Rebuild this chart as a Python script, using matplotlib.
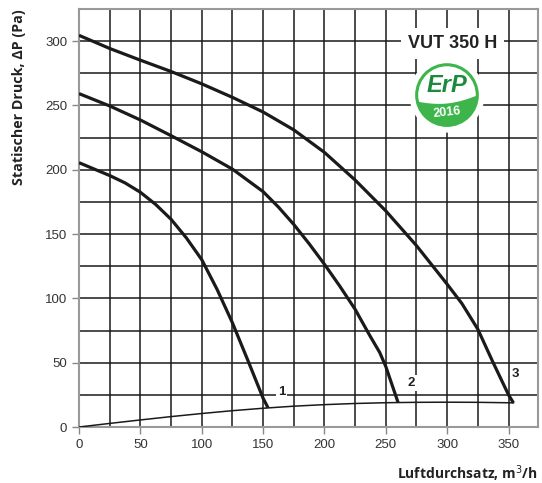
import matplotlib.pyplot as plt
import numpy as np
from matplotlib.patches import Circle, Polygon

# Kennlinien
x1 = [0, 25, 37.5, 50, 62.5, 75, 87.5, 100, 112.5, 125, 137.5, 150, 154]
y1 = [205.5, 195.5, 189.8, 182.5, 173, 161.5, 147, 130.1, 107, 81, 52, 22.4, 15]

x2 = [0, 25, 50, 75, 100, 125, 150, 162.5, 175, 187.5, 200, 212.5, 225, 237, 245, 250, 255, 260]
y2 = [259.2, 249.6, 238.7, 226.5, 214, 200.5, 183, 171, 157.5, 142.5, 126.5, 109.5, 91.5,
      71, 58, 47, 33, 19]

x3 = [0, 25, 50, 75, 100, 125, 150, 175, 200, 225, 250, 275, 300, 312, 325, 337, 350, 354]
y3 = [304.5, 294.3, 285.2, 276.4, 266.8, 256.3, 244.9, 231, 213.5, 192, 168, 141,
      111, 96, 76, 51, 25, 18.8]

# Anlagenkennlinie
xs = [0, 25, 50, 75, 100, 125, 150, 175, 200, 225, 250, 275, 300, 325, 354]
ys = [0, 2.8, 5.5, 8.1, 10.5, 12.7, 14.6, 16.2, 17.4, 18.3, 18.9, 19.2, 19.3, 19.2, 18.8]

labels = ['1', '2', '3']
label_pos = [(165, 27.5), (271, 34.5), (356, 41)]

fig = plt.figure(figsize=(5.42, 4.83), dpi=100)
ax = fig.add_axes([0.1458, 0.1159, 0.8468, 0.8655])

ax.set_xlim(0, 374)
ax.set_ylim(0, 325)
ax.set_xticks(np.arange(0, 351, 50))
ax.set_yticks(np.arange(0, 301, 50))
ax.set_xticks(np.arange(25, 374, 25), minor=True)
ax.set_yticks(np.arange(25, 325, 25), minor=True)
ax.grid(True, which='both', color='#1a1a1a', linewidth=1.1, zorder=1)
ax.set_axisbelow(True)
ax.tick_params(which='major', length=5, width=1, color='#888888',
               labelsize=9.5, labelcolor='#333333')
ax.tick_params(which='minor', length=0)
for lab in ax.get_xticklabels() + ax.get_yticklabels():
    lab.set_family('Liberation Sans')
for s in ax.spines.values():
    s.set_color('#999999')
    s.set_linewidth(1.5)

ax.plot(xs, ys, color='#1a1a1a', lw=1.1, zorder=3)
for xx, yy in [(x1, y1), (x2, y2), (x3, y3)]:
    ax.plot(xx, yy, color='#1a1a1a', lw=2.3, solid_capstyle='butt',
            solid_joinstyle='round', zorder=4)

for t, (lx, ly) in zip(labels, label_pos):
    ax.text(lx, ly, t, ha='center', va='center', fontsize=9.5, fontweight='bold',
            family='Liberation Sans', color='#222222', zorder=5,
            bbox=dict(facecolor='white', edgecolor='none', pad=1.5))

ax.text(304.5, 298.4, 'VUT 350 H', ha='center', va='center', fontsize=13,
        fontweight='bold', family='Liberation Sans', color='#222222', zorder=5,
        bbox=dict(facecolor='white', edgecolor='none', pad=5))

ax.set_ylabel('Statischer Druck, \u0394P (Pa)', fontsize=10.3, fontweight='bold',
              family='Open Sans', color='#222222', loc='top', labelpad=14)
ax.set_xlabel('Luftdurchsatz, m$^3$/h', fontsize=10, fontweight='bold',
              family='Open Sans', color='#222222', loc='right', labelpad=9)

# ErP-Logo
lg = fig.add_axes([0.7675 - 0.012, 0.739 - 0.014, 0.1144 + 0.024, 0.1284 + 0.028])
lg.set_xlim(-1.2, 1.2)
lg.set_ylim(-1.2, 1.2)
lg.set_aspect('equal')
lg.axis('off')
lg.add_patch(Circle((0, 0), 1.18, color='white', zorder=1))
green = '#3db54a'
dark = '#1b8a3c'
lg.add_patch(Circle((0, 0), 0.97, facecolor='white', edgecolor=green, lw=2.2, zorder=2))
th = np.linspace(np.radians(190), np.radians(362), 60)
lower = list(zip(np.cos(th), np.sin(th)))
wx = np.linspace(1.0, -0.98, 40)
wy = -0.2 + 0.2 * ((wx + 1) / 2) ** 2 - 0.12 * np.sin(np.pi * (wx + 1) / 2)
lower += list(zip(wx, wy))
lg.add_patch(Polygon(lower, closed=True, facecolor=green, edgecolor='none', zorder=3))
lg.text(0, 0.3, 'ErP', ha='center', va='center', fontsize=17, fontweight='bold',
        family='Liberation Sans', color=dark, style='italic', zorder=4)
lg.text(0.02, -0.55, '2016', ha='center', va='center', fontsize=9, fontweight='bold',
        family='Liberation Sans', color='white', rotation=6, zorder=4)

fig.savefig('out.png', dpi=100)
